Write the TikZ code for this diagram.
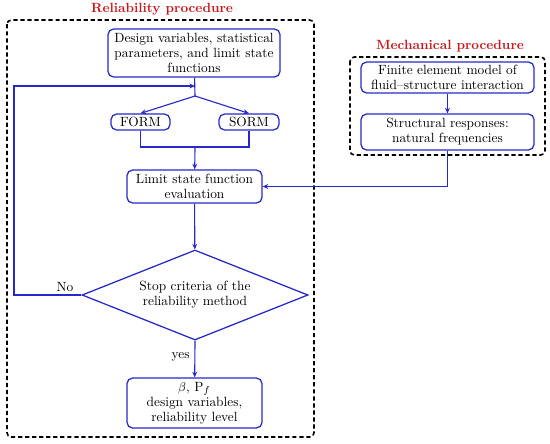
\documentclass[tikz,border=0pt]{standalone}
\usepackage{tikz}
\usetikzlibrary{shapes.geometric,arrows.meta,positioning,calc}
\usepackage{xcolor}
\usepackage{amsmath}
\definecolor{FlowBlue}{RGB}{40,40,200}
\definecolor{TitleRed}{RGB}{200,25,30}

\begin{document}
\begin{tikzpicture}[x=0.025cm,y=-0.025cm,
  stepbox/.style={draw=FlowBlue,line width=0.9pt,rounded corners=4pt,
              inner sep=1pt,align=center,font=\fontsize{9.5}{10.7}\selectfont},
  decision/.style={draw=FlowBlue,line width=0.9pt,diamond,inner sep=0pt,aspect=2.5,
              minimum width=5.65cm,minimum height=2.25cm,align=center,
              font=\fontsize{9.5}{10.7}\selectfont},
  frame/.style={draw=black,line width=1.1pt,dash pattern=on 3pt off 2pt,rounded corners=3pt},
  flow/.style={FlowBlue,line width=0.8pt},
  arr/.style={flow,-{Stealth[length=4pt,width=3.5pt]}},
  title/.style={font=\fontsize{9.5}{10.7}\selectfont\bfseries,text=TitleRed},
  lbl/.style={font=\fontsize{9.5}{10.7}\selectfont,text=black},
]
\useasboundingbox (0,0) rectangle (550,443);
% frames
\draw[frame] (7,20) rectangle (314,437);
\draw[frame] (350,57) rectangle (545,155);
\node[title] (reltitle) at (162,9) {Reliability procedure};
\node[title] (mechtitle) at (450,46) {Mechanical procedure};
% reliability procedure
\node[stepbox,minimum width=4.3cm,minimum height=1.2cm] (design) at (194,53)
  {Design variables, statistical\\parameters, and limit state\\functions};
\node[stepbox,minimum width=1.475cm,minimum height=0.4cm] (form) at (140.5,122) {FORM};
\node[stepbox,minimum width=1.5cm,minimum height=0.4cm] (sorm) at (249,122) {SORM};
\node[stepbox,minimum width=3.375cm,minimum height=0.825cm] (limit) at (194.5,186.5)
  {Limit state function\\evaluation};
\node[decision] (stop) at (195,295) {Stop criteria of the\\reliability method};
\node[stepbox,minimum width=3.375cm,minimum height=1.25cm] (result) at (194.5,403)
  {$\beta$, P$_f$\\design variables,\\reliability level};
% mechanical procedure
\node[stepbox,minimum width=4.325cm,minimum height=0.775cm] (fem) at (447.5,77.5)
  {Finite element model of\\fluid--structure interaction};
\node[stepbox,minimum width=4.325cm,minimum height=0.9cm] (resp) at (447.5,132)
  {Structural responses:\\natural frequencies};
% connectors
\coordinate (split) at (195,96);
\coordinate (join) at (195,147);
\coordinate (back) at (14,86);
\draw[flow] (design) -- (split);
\draw[arr] (split) -- (form.north);
\draw[arr] (split) -- (sorm.north);
\draw[flow] (form.south) |- (join) -| (sorm.south);
\draw[arr] (join) -- (limit);
\draw[arr] (limit) -- (stop);
\draw[arr] (stop.south) -- node[lbl,left,pos=0.45] {yes} (result);
\draw[arr] (stop.west) -| (back) -- (back -| split);
\node[lbl] (no) at (65,287) {No};
\draw[arr] (fem) -- (resp);
\draw[arr] (resp.south) |- (limit.east);
\end{tikzpicture}
\end{document}
